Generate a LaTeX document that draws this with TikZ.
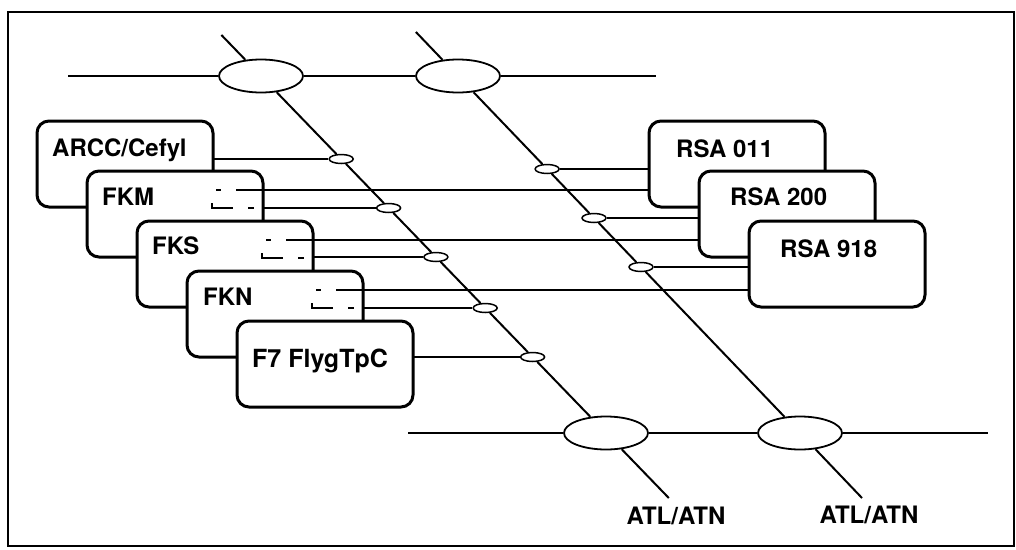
\documentclass[tikz,border=0pt]{standalone}
\usepackage{fontspec}
\setmainfont{TeX Gyre Heros}
\usetikzlibrary{calc,shapes.geometric}

\tikzset{
  unit/.style={draw,line width=3pt,rounded corners=12pt,fill=white,
    minimum width=176pt,minimum height=86pt,inner sep=0pt,outer sep=0pt},
  lbl/.style={font=\fontsize{24}{28}\selectfont\bfseries,inner sep=0pt},
  hub/.style={ellipse,draw,line width=1.8pt,fill=white,
    minimum width=84pt,minimum height=33pt,inner sep=0pt},
  tap/.style={ellipse,draw,line width=1.5pt,fill=white,
    minimum width=24pt,minimum height=9pt,inner sep=0pt},
  wire/.style={line width=2pt},
  hiddenbit/.style={line width=1.4pt},
}

\begin{document}
\begin{tikzpicture}[x=1pt,y=-1pt]
    \useasboundingbox (0,0) rectangle (1016,549);
    \draw[line width=2pt] (8,12) rectangle (1014,546);
    % hubs on the two buses
    \node[hub] (h1) at (261,76) {};
    \node[hub] (h2) at (458,76) {};
    \node[hub] (g1) at (606,433) {};
    \node[hub] (g2) at (800,433) {};
    % taps on the first diagonal
    \node[tap] (t1) at (341.2,159) {};
    \node[tap] (t2) at (388.6,208) {};
    \node[tap] (t3) at (435.9,257) {};
    \node[tap] (t4) at (485.2,308) {};
    \node[tap] (t5) at (532.6,357) {};
    % taps on the second diagonal
    \node[tap] (r1) at (547.1,169) {};
    \node[tap] (r2) at (594,218) {};
    \node[tap] (r3) at (641,267) {};
    % free ends
    \coordinate (u0) at (68,76);
    \coordinate (u9) at (656,76);
    \coordinate (v0) at (408,433);
    \coordinate (v9) at (988,433);
    \coordinate (a0) at (221.4,35);
    \coordinate (a9) at (668.8,498);
    \coordinate (b0) at (415.9,32);
    \coordinate (b9) at (862,498);
    % buses and diagonals
    \draw[wire] (u0) -- (h1) -- (h2) -- (u9);
    \draw[wire] (v0) -- (g1) -- (g2) -- (v9);
    \draw[wire] (a0) -- (h1) -- (t1) -- (t2) -- (t3) -- (t4) -- (t5) -- (g1) -- (a9);
    \draw[wire] (b0) -- (h2) -- (r1) -- (r2) -- (r3) -- (g2) -- (b9);
    % left units
    \node[unit] (arcc) at (125,164) {};
    \node[unit] (fkm) at (175,214) {};
    \node[unit] (fks) at (225,264) {};
    \node[unit] (fkn) at (275,314) {};
    \node[unit] (f7) at (325,364) {};
    % right units
    \node[unit] (rsa1) at (737,164) {};
    \node[unit] (rsa2) at (787,214) {};
    \node[unit] (rsa3) at (837,264) {};
    % labels
    \node[lbl,anchor=base west] (arccT) at ($(arcc.north west)+(15,35)$) {ARCC/Cefyl};
    \node[lbl,anchor=base west] (fkmT) at ($(fkm.north west)+(15,34)$) {FKM};
    \node[lbl,anchor=base west] (fksT) at ($(fks.north west)+(15,33)$) {FKS};
    \node[lbl,anchor=base west] (fknT) at ($(fkn.north west)+(16,34)$) {FKN};
    \node[lbl,anchor=base west,font=\fontsize{25}{29}\selectfont\bfseries] (f7T)
      at ($(f7.north west)+(15,46)$) {F7 FlygTpC};
    \node[lbl,anchor=base west] (rsa1T) at ($(rsa1.north west)+(27,36)$) {RSA 011};
    \node[lbl,anchor=base west] (rsa2T) at ($(rsa2.north west)+(31,34)$) {RSA 200};
    \node[lbl,anchor=base west] (rsa3T) at ($(rsa3.north west)+(31,36)$) {RSA 918};
    \node[lbl,anchor=base] (atl1) at (676,524) {ATL/ATN};
    \node[lbl,anchor=base] (atl2) at (869,523) {ATL/ATN};
    % left units to first diagonal
    \draw[wire] (t1 -| arcc.east) -- (t1);
    \draw[wire] (t2 -| fkm.east) -- (t2);
    \draw[wire] (t3 -| fks.east) -- (t3);
    \draw[wire] (t4 -| fkn.east) -- (t4);
    \draw[wire] (t5 -| f7.east) -- (t5);
    % right units to second diagonal
    \draw[wire] (r1) -- (r1 -| rsa1.west);
    \draw[wire] (r2) -- (r2 -| rsa2.west);
    \draw[wire] (r3) -- (r3 -| rsa3.west);
    % direct links left to right
    \coordinate (fkmU) at ($(fkm.north east)+(-27,19)$);
    \coordinate (fksU) at ($(fks.north east)+(-27,19)$);
    \coordinate (fknU) at ($(fkn.north east)+(-27,19)$);
    \draw[wire] (fkmU) -- (fkmU -| rsa1.west);
    \draw[wire] (fksU) -- (fksU -| rsa2.west);
    \draw[wire] (fknU) -- (fknU -| rsa3.west);
    % hidden line bits
    \foreach \b in {fkm,fks,fkn}{
      \draw[hiddenbit] ($(\b.north east)+(-47,19)$) -- ++(5,0);
      \draw[hiddenbit] ($(\b.north east)+(-51,32)$) -- ++(0,5) -- ++(21,0);
      \draw[hiddenbit] ($(\b.north east)+(-15,37)$) -- ++(6,0);
    }
\end{tikzpicture}
\end{document}
